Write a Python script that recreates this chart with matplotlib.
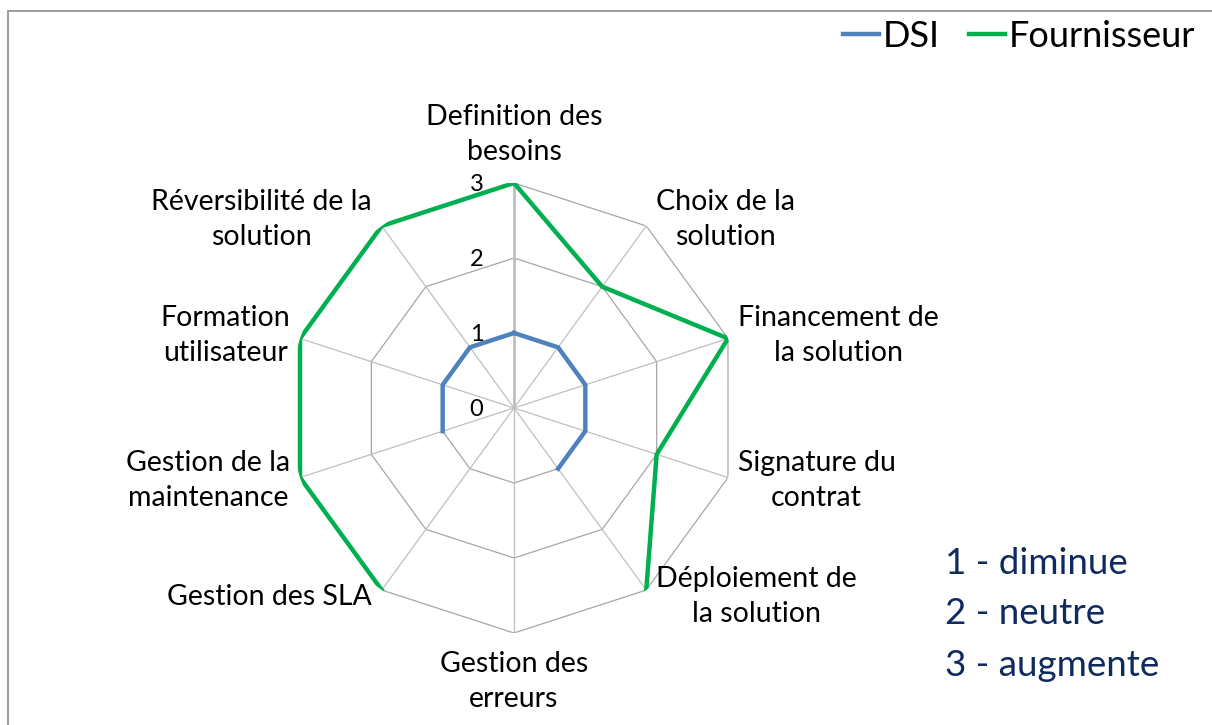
import numpy as np
import matplotlib
matplotlib.use("Agg")
import matplotlib.pyplot as plt
from matplotlib.patches import Rectangle

plt.rcParams['font.family'] = ['Lato', 'DejaVu Sans']

# Data
categories = ["Definition des\nbesoins", "Choix de la\nsolution", "Financement de\nla solution",
              "Signature du\ncontrat", "Déploiement de\nla solution", "Gestion des\nerreurs",
              "Gestion des SLA", "Gestion de la\nmaintenance", "Formation\nutilisateur",
              "Réversibilité de la\nsolution"]
dsi = [1, 1, 1, 1, 1, np.nan, np.nan, 1, 1, 1]
fournisseur = [3, 2, 3, 2, 3, np.nan, 3, 3, 3, 3]
rticks = [0, 1, 2, 3]
notes = ["1 - diminue", "2 - neutre", "3 - augmente"]

W, H = 1212, 725
fig = plt.figure(figsize=(W / 100, H / 100), dpi=100)

# chart border (only top/left visible in the original crop)
fig.patches.append(Rectangle((8 / W, -0.1), 1.2, 1 - 11 / H + 0.1, transform=fig.transFigure,
                             fill=False, edgecolor='#8c8c8c', linewidth=1.2))

ax = fig.add_axes([289 / W, 92 / H, 450 / W, 450 / H], projection='polar')
ax.set_theta_zero_location('N')
ax.set_theta_direction(-1)
ax.set_ylim(0, 3)
ax.grid(False)
ax.spines['polar'].set_visible(False)
ax.set_xticks([])
ax.set_yticks([])
ax.patch.set_alpha(0)

n = len(categories)
theta = np.arange(n) * 2 * np.pi / n
closed_t = np.append(theta, theta[0])

# polygon grid
for r in rticks[1:]:
    ax.plot(closed_t, [r] * (n + 1), color='#a6a6a6', lw=0.9, zorder=1)
for i, t in enumerate(theta):
    ax.plot([t, t], [0, 3], color='#bfbfbf', lw=2.0 if i == 0 else 0.9, zorder=1)

# series (gaps where values missing)
ax.plot(closed_t, dsi + dsi[:1], color='#4f81bd', lw=3.2, label='DSI', zorder=3,
        solid_joinstyle='round')
ax.plot(closed_t, fournisseur + fournisseur[:1], color='#00b050', lw=3.2, label='Fournisseur',
        zorder=3, solid_joinstyle='round')

# radial tick labels
for r in rticks:
    ax.annotate(str(r), xy=(0, r), xytext=(-22, -1), textcoords='offset points',
                ha='right', va='center', fontsize=17, color='black')

# category labels
for t, lab in zip(theta, categories):
    s, c = np.sin(t), np.cos(t)
    if abs(s) < 0.1:
        ha = 'center'
        va = 'bottom' if c > 0 else 'top'
        off = (0, 13 if c > 0 else -13)
    else:
        ha = 'left' if s > 0 else 'right'
        va = 'center'
        off = (7 * np.sign(s), 6 * c)
    ax.annotate(lab, xy=(t, 3), xytext=off, textcoords='offset points', ha=ha, va=va,
                multialignment='center', fontsize=20.5, linespacing=1.42, color='black')

fig.legend(loc='upper right', bbox_to_anchor=(1195 / W, 1 - 20 / H), ncol=2, frameon=False,
           fontsize=26, handlelength=1.0, handletextpad=0.1, columnspacing=0.8,
           borderaxespad=0, borderpad=0)

for i, txt in enumerate(notes):
    fig.text(945 / W, 1 - (563 + 51 * i) / H, txt, ha='left', va='center', fontsize=26.5,
             color='#0f2a5e')

fig.savefig('out.png', dpi=100)
